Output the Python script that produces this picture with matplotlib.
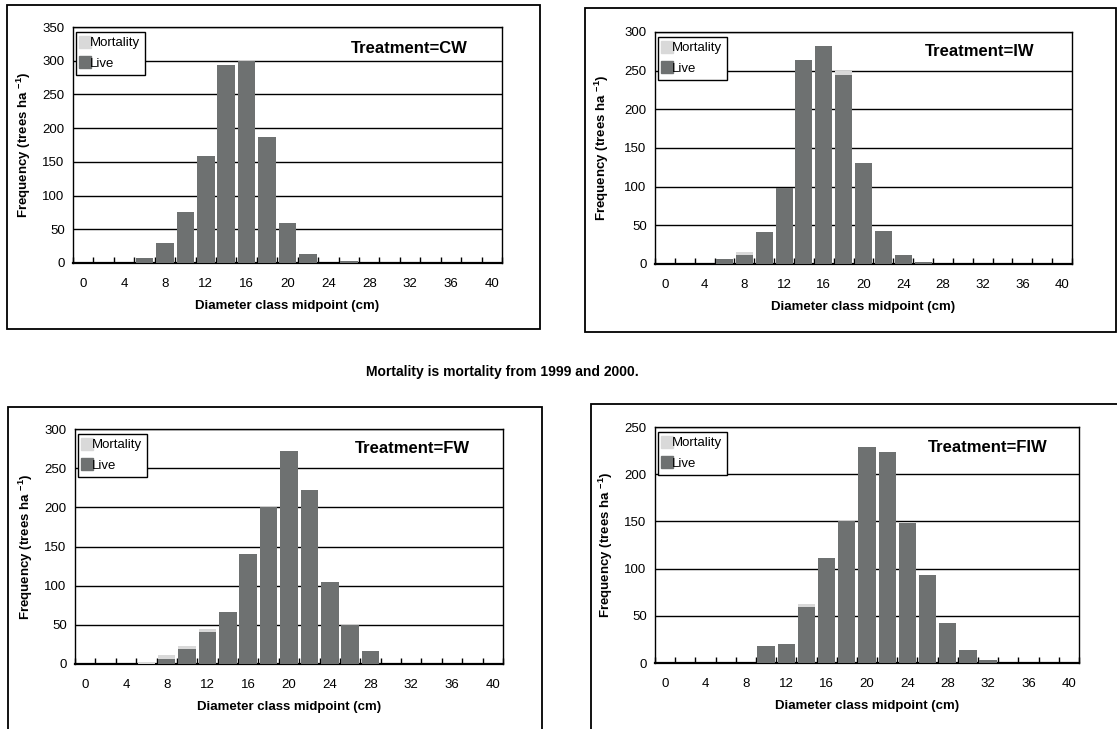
import matplotlib
matplotlib.use('Agg')
import matplotlib.pyplot as plt
from matplotlib.patches import Rectangle
from matplotlib.lines import Line2D
import numpy as np

plt.rcParams['font.family'] = ['Liberation Sans', 'DejaVu Sans']
plt.rcParams['mathtext.fontset'] = 'custom'
plt.rcParams['mathtext.bf'] = 'Liberation Sans:bold'
plt.rcParams['mathtext.rm'] = 'Liberation Sans'

# diameter classes (cm)
classes = list(range(0, 42, 2))
tick_labels = [str(c) if c % 4 == 0 else '' for c in classes]

# live / mortality per class, trees ha-1
cw_live = [0, 0, 0, 8, 30, 75, 158, 294, 300, 187, 59, 14, 0, 3, 0, 0, 0, 0, 0, 0, 0]
cw_mort = [0, 0, 0, 0, 0, 0, 0, 0, 0, 0, 0, 0, 0, 0, 0, 0, 0, 0, 0, 0, 0]
iw_live = [0, 0, 0, 6, 11, 41, 98, 264, 282, 245, 131, 43, 11, 3, 0, 0, 0, 0, 0, 0, 0]
iw_mort = [0, 0, 0, 0, 4, 0, 0, 0, 0, 4, 0, 0, 0, 0, 0, 0, 0, 0, 0, 0, 0]
fw_live = [0, 0, 0, 0, 7, 19, 41, 67, 141, 200, 272, 222, 105, 50, 16, 0, 0, 0, 0, 0, 0]
fw_mort = [0, 0, 0, 2, 4, 4, 4, 0, 0, 0, 0, 0, 0, 0, 0, 0, 0, 0, 0, 0, 0]
fiw_live = [0, 0, 0, 0, 0, 18, 20, 59, 111, 150, 229, 223, 148, 93, 42, 14, 3, 0, 0, 0, 0]
fiw_mort = [0, 0, 0, 0, 0, 0, 0, 3, 0, 0, 0, 0, 0, 0, 0, 0, 0, 0, 0, 0, 0]

W, H = 1117, 729
fig = plt.figure(figsize=(W / 100, H / 100), dpi=100)

LIVE = '#6e7171'
MORT = '#d9d9d9'
FS = 9.5


def px_axes(l, t, r, b):
    return fig.add_axes([l / W, 1 - b / H, (r - l) / W, (b - t) / H])


def box(l, t, r, b):
    fig.patches.append(Rectangle((l / W, 1 - b / H), (r - l) / W, (b - t) / H,
                                 transform=fig.transFigure, fill=False,
                                 edgecolor='black', lw=1.3, zorder=0))


def panel(ax, live, mort, ymax, name, tx, ty, ylab_x):
    x = np.arange(len(classes))
    ax.bar(x, live, width=0.86, color=LIVE, zorder=3)
    ax.bar(x, mort, width=0.86, bottom=live, color=MORT, zorder=3)
    ax.set_xlim(-0.5, len(classes) - 0.5)
    ax.set_ylim(0, ymax)
    ax.set_yticks(np.arange(0, ymax + 1, 50))
    ax.grid(axis='y', color='black', lw=1, zorder=1)
    ax.set_xticks(x)
    ax.set_xticklabels(tick_labels, fontsize=FS)
    ax.set_xticks(np.arange(-0.5, len(classes), 1), minor=True)
    ax.tick_params(axis='x', which='major', length=0, pad=11)
    ax.tick_params(axis='x', which='minor', direction='in', length=4, width=1)
    ax.tick_params(axis='y', length=0, labelsize=FS, pad=6)
    for s in ax.spines.values():
        s.set_linewidth(1)
    ax.spines['bottom'].set_linewidth(1.6)
    ax.set_xlabel('Diameter class midpoint (cm)', fontsize=FS, fontweight='bold', labelpad=7)
    ax.set_ylabel(r'Frequency (trees ha $^{\mathbf{-1}}$)', fontsize=FS, fontweight='bold')
    ax.yaxis.set_label_coords(ylab_x, 0.5)
    ax.text(tx, ty, 'Treatment=' + name, transform=ax.transAxes, ha='right', va='center',
            fontsize=12, fontweight='bold')
    handles = [Line2D([], [], ls='', marker='s', markersize=8, color=MORT),
               Line2D([], [], ls='', marker='s', markersize=8, color=LIVE)]
    leg = ax.legend(handles, ['Mortality', 'Live'], loc='upper left',
                    bbox_to_anchor=(0.006, 0.98), fontsize=FS, frameon=True,
                    fancybox=False, edgecolor='black', framealpha=1,
                    handlelength=0.6, handletextpad=0.1, borderpad=0.4,
                    labelspacing=0.65, borderaxespad=0)
    leg.get_frame().set_linewidth(1)
    leg.set_zorder(5)


box(7, 5, 540, 329)
box(585, 8, 1116, 332)
box(8, 407, 542, 740)
box(591, 404, 1130, 740)

ax1 = px_axes(73, 27, 502, 263)
panel(ax1, cw_live, cw_mort, 350, 'CW', 0.92, 0.91, (33 - 73) / 429)
ax2 = px_axes(655, 32, 1072, 264)
panel(ax2, iw_live, iw_mort, 300, 'IW', 0.911, 0.914, (611 - 655) / 417)
ax3 = px_axes(75, 429, 503, 664)
panel(ax3, fw_live, fw_mort, 300, 'FW', 0.923, 0.915, (35 - 75) / 428)
ax4 = px_axes(655, 427, 1079, 663)
panel(ax4, fiw_live, fiw_mort, 250, 'FIW', 0.925, 0.915, (615 - 655) / 424)

fig.text(502 / W, 1 - 372 / H, 'Mortality is mortality from 1999 and 2000.',
         ha='center', va='center', fontsize=10, fontweight='bold')

fig.savefig('out.png', dpi=100)
